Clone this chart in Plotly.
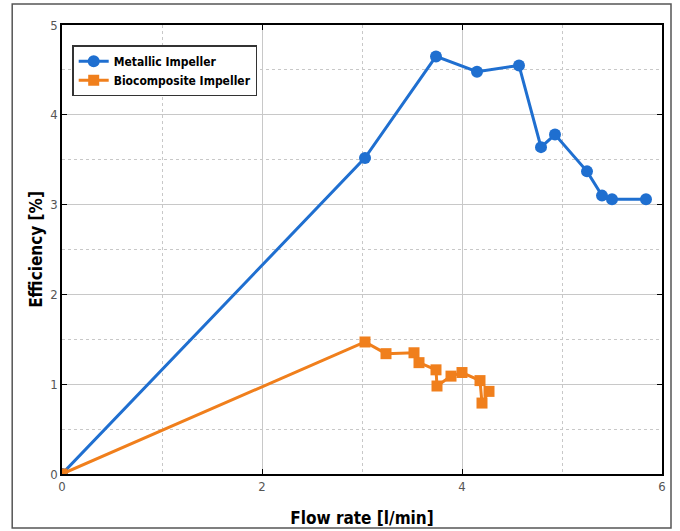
import plotly.graph_objects as go

metal_x = [0, 3.03, 3.74, 4.15, 4.57, 4.79, 4.93, 5.25, 5.40, 5.50, 5.84]
metal_y = [0, 3.52, 4.65, 4.48, 4.55, 3.64, 3.78, 3.37, 3.10, 3.06, 3.06]
bio_x = [0, 3.03, 3.24, 3.52, 3.57, 3.74, 3.75, 3.89, 4.00, 4.18, 4.20, 4.27]
bio_y = [0, 1.47, 1.34, 1.35, 1.24, 1.16, 0.98, 1.09, 1.13, 1.04, 0.79, 0.92]

BLUE = "#1f6fd0"
ORANGE = "#f07f1c"
FONT = "DejaVu Sans Condensed, Liberation Sans Narrow, Roboto, sans-serif"

fig = go.Figure()
fig.add_trace(go.Scatter(x=metal_x, y=metal_y, mode="lines+markers", name="<b>Metallic Impeller</b>",
                         line=dict(color=BLUE, width=3), marker=dict(symbol="circle", size=12, color=BLUE)))
fig.add_trace(go.Scatter(x=bio_x, y=bio_y, mode="lines+markers", name="<b>Biocomposite Impeller</b>",
                         line=dict(color=ORANGE, width=3), marker=dict(symbol="square", size=11, color=ORANGE)))

axis_common = dict(showline=True, linecolor="black", linewidth=1.5, mirror="ticks",
                   ticks="inside", ticklen=5, tickcolor="black", zeroline=False,
                   gridcolor="#c8c8c8", gridwidth=1, automargin=False,
                   tickfont=dict(family=FONT, size=13, color="#555"))

fig.update_xaxes(range=[0, 6], dtick=2, tick0=0,
                 minor=dict(dtick=1, showgrid=True, gridcolor="#c8c8c8", griddash="dot", ticks=""),
                 title=dict(text="<b>Flow rate [l/min]</b>", font=dict(family=FONT, size=17, color="black"), standoff=19),
                 **axis_common)
fig.update_yaxes(range=[0, 5], dtick=1, tick0=0,
                 minor=dict(dtick=0.5, showgrid=True, gridcolor="#c8c8c8", griddash="dot", ticks=""),
                 title=dict(text="<b>Efficiency [%]</b>", font=dict(family=FONT, size=17, color="black"), standoff=3),
                 **axis_common)

fig.add_shape(type="rect", xref="paper", yref="paper", x0=-0.083, x1=1.015, y0=-0.12, y1=1.047,
              line=dict(color="#555", width=1.5), fillcolor="rgba(0,0,0,0)")

fig.update_layout(
    width=680, height=531,
    margin=dict(l=62, r=18, t=25, b=57),
    paper_bgcolor="white", plot_bgcolor="white",
    showlegend=True,
    legend=dict(x=0.017, y=0.955, xanchor="left", yanchor="top",
                bgcolor="white", bordercolor="#333", borderwidth=1.5,
                font=dict(family=FONT, size=12, color="black"),
                itemwidth=30, tracegroupgap=0),
)

fig.write_html("out.html", config={"displayModeBar": False},
               post_script="document.body.style.margin='0';")
